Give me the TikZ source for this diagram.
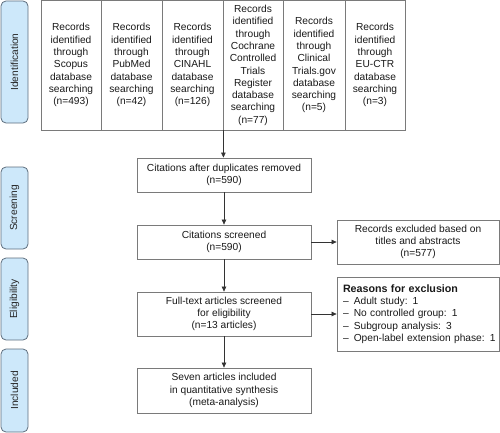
\documentclass[tikz,border=0pt]{standalone}
\usepackage{fontspec}
\setmainfont{Liberation Sans}
\usetikzlibrary{arrows.meta}
\definecolor{boxline}{HTML}{7A7A7A}
\definecolor{sidefill}{HTML}{CDE8FA}
\definecolor{sideline}{HTML}{5E6E7E}
\begin{document}
\begin{tikzpicture}[x=1pt,y=-1pt, font=\fontsize{10.2}{12.3}\selectfont,
  box/.style={draw=boxline, line width=0.8pt, inner sep=0pt, align=center, text=black!90},
  side/.style={draw=sideline, fill=sidefill, rounded corners=5pt, line width=0.8pt, rotate=90, inner sep=0pt, minimum height=27pt, text=black!85},
  arr/.style={-{Triangle[length=5pt,width=4.5pt]}, line width=0.6pt, draw=black!80}]
\useasboundingbox (0,0) rectangle (500,433);
% side labels
\node[side, minimum width=122pt] (sid) at (14.5,62) {Identification};
\node[side, minimum width=82pt] (ssc) at (14.5,208) {Screening};
\node[side, minimum width=82pt] (sel) at (14.5,299) {Eligibility};
\node[side, minimum width=83pt] (sin) at (14.5,390.5) {Included};
% top row
\node[box, minimum width=60pt, minimum height=129.5pt, text width=58pt] (t1) at (71,65.25) {Records\\identified\\through\\Scopus\\database\\searching\\(n=493)};
\node[box, minimum width=61pt, minimum height=129.5pt, text width=58pt] (t2) at (131.5,65.25) {Records\\identified\\through\\PubMed\\database\\searching\\(n=42)};
\node[box, minimum width=61pt, minimum height=129.5pt, text width=58pt] (t3) at (192.5,65.25) {Records\\identified\\through\\CINAHL\\database\\searching\\(n=126)};
\node[box, minimum width=60pt, minimum height=129.5pt, text width=58pt] (t4) at (253,65.25) {Records\\identified\\through\\Cochrane\\Controlled\\Trials\\Register\\database\\searching\\(n=77)};
\node[box, minimum width=62pt, minimum height=129.5pt, text width=60pt] (t5) at (314,65.25) {Records\\identified\\through\\Clinical\\Trials.gov\\database\\searching\\(n=5)};
\node[box, minimum width=60pt, minimum height=129.5pt, text width=58pt] (t6) at (375,65.25) {Records\\identified\\through\\EU-CTR\\database\\searching\\(n=3)};
% central column
\node[box, minimum width=174pt, minimum height=34pt] (c1) at (224,175) {Citations after duplicates removed\\(n=590)};
\node[box, minimum width=174pt, minimum height=34pt] (c2) at (224,242) {Citations screened\\(n=590)};
\node[box, minimum width=174pt, minimum height=44pt] (c3) at (224,314) {Full-text articles screened\\for eligibility\\(n=13 articles)};
\node[box, minimum width=174pt, minimum height=45pt] (c4) at (224,390.5) {Seven articles included\\in quantitative synthesis\\(meta-analysis)};
% right column
\node[box, minimum width=162pt, minimum height=44pt] (r1) at (418,242) {Records excluded based on\\titles and abstracts\\(n=577)};
\node[box, minimum width=162pt, minimum height=74pt, text width=150pt, align=left] (r2) at (418,314) {{\fontsize{10.7}{12.3}\selectfont\bfseries Reasons for exclusion}\\\mbox{–\enspace Adult study: 1}\\\mbox{–\enspace No controlled group: 1}\\\mbox{–\enspace Subgroup analysis: 3}\\\mbox{–\enspace Open-label extension phase: 1}};
% connectors
\draw[arr] (t3.south east) -- (t3.south east |- c1.north);
\draw[arr] (c1) -- (c2);
\draw[arr] (c2) -- (c3);
\draw[arr] (c3) -- (c4);
\draw[arr] (c2) -- (r1);
\draw[arr] (c3) -- (r2);
\end{tikzpicture}
\end{document}
